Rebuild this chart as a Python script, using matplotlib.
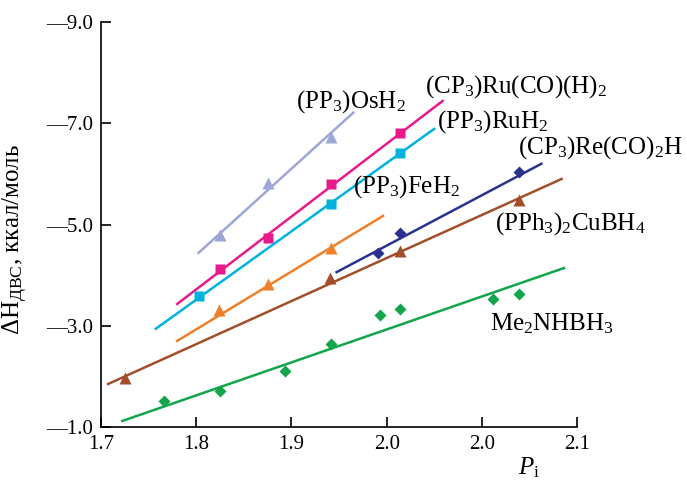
import numpy as np
from matplotlib import pyplot as plt

plt.rcParams['font.family'] = ['Liberation Serif', 'DejaVu Serif']
plt.rcParams['mathtext.fontset'] = 'custom'
plt.rcParams['mathtext.rm'] = 'Liberation Serif'
plt.rcParams['mathtext.it'] = 'Liberation Serif:italic'

# points (x = P_i, y = dH, kcal/mol)
os_x = [1.800, 1.840, 1.893]
os_y = [-4.79, -5.82, -6.73]
os_fit_x = [1.782, 1.912]
os_fit_y = [-4.44, -7.21]

ru_co_x = [1.800, 1.840, 1.893, 1.951]
ru_co_y = [-4.12, -4.74, -5.80, -6.81]
ru_co_fit_x = [1.764, 1.987]
ru_co_fit_y = [-3.43, -7.44]

ru_x = [1.782, 1.893, 1.951]
ru_y = [-3.59, -5.41, -6.41]
ru_fit_x = [1.746, 1.980]
ru_fit_y = [-2.94, -6.89]

fe_x = [1.799, 1.840, 1.893]
fe_y = [-3.31, -3.83, -4.54]
fe_fit_x = [1.764, 1.937]
fe_fit_y = [-2.70, -5.17]

re_x = [1.933, 1.951, 2.051]
re_y = [-4.44, -4.83, -6.04]
re_fit_x = [1.898, 2.070]
re_fit_y = [-4.06, -6.20]

cu_x = [1.720, 1.892, 1.951, 2.051]
cu_y = [-1.97, -3.94, -4.48, -5.49]
cu_fit_x = [1.706, 2.087]
cu_fit_y = [-1.85, -5.90]

nb_x = [1.753, 1.800, 1.855, 1.893, 1.934, 1.951, 2.029, 2.051]
nb_y = [-1.51, -1.71, -2.11, -2.64, -3.21, -3.33, -3.53, -3.63]
nb_fit_x = [1.718, 2.089]
nb_fit_y = [-1.12, -4.14]

x_ticks = [1.70, 1.78, 1.86, 1.94, 2.02, 2.10]
x_tick_labels = ['1.7', '1.8', '1.9', '2.0', '2.0', '2.1']
y_ticks = [-9.0, -7.0, -5.0, -3.0, -1.0]

fig = plt.figure(figsize=(6.87, 4.86), dpi=100)
ax = fig.add_axes([0.147, 0.1214, 0.693, 0.8333])

series = [
    (os_x, os_y, os_fit_x, os_fit_y, '#9da6d6', '^', 8),
    (ru_co_x, ru_co_y, ru_co_fit_x, ru_co_fit_y, '#e8198b', 's', 7),
    (ru_x, ru_y, ru_fit_x, ru_fit_y, '#00b2dd', 's', 7),
    (fe_x, fe_y, fe_fit_x, fe_fit_y, '#f07f2a', '^', 8),
    (re_x, re_y, re_fit_x, re_fit_y, '#2b3191', 'D', 6),
    (cu_x, cu_y, cu_fit_x, cu_fit_y, '#a34e2a', '^', 8),
    (nb_x, nb_y, nb_fit_x, nb_fit_y, '#12a54a', 'D', 6),
]
for px, py, fx, fy, col, mk, ms in series:
    ax.plot(fx, fy, '-', color=col, lw=1.8)
    ax.plot(px, py, mk, color=col, ms=ms, mec='none')

fs = 15
lfs = 18
ax.text(1.864, -7.42, r'$\mathrm{(PP_3)OsH_2}$', fontsize=lfs, va='center')
ax.text(1.972, -7.72, r'$\mathrm{(CP_3)Ru(CO)(H)_2}$', fontsize=lfs, va='center')
ax.text(1.982, -7.03, r'$\mathrm{(PP_3)RuH_2}$', fontsize=lfs, va='center')
ax.text(2.050, -6.51, r'$\mathrm{(CP_3)Re(CO)_2H}$', fontsize=lfs, va='center')
ax.text(1.912, -5.74, r'$\mathrm{(PP_3)FeH_2}$', fontsize=lfs, va='center')
ax.text(2.031, -5.01, r'$\mathrm{(PPh_3)_2CuBH_4}$', fontsize=lfs, va='center')
ax.text(2.027, -3.04, r'$\mathrm{Me_2NHBH_3}$', fontsize=lfs, va='center')

ax.set_xlim(1.7, 2.1)
ax.set_ylim(-1.0, -9.0)
ax.set_xticks(x_ticks)
ax.set_xticklabels(x_tick_labels)
ax.set_yticks(y_ticks)
ax.set_yticklabels(['\u2014%.1f' % abs(v) for v in y_ticks])
ax.tick_params(direction='in', length=7, width=1.2, labelsize=fs, pad=6)
ax.spines['top'].set_visible(False)
ax.spines['right'].set_visible(False)
for s in ['left', 'bottom']:
    ax.spines[s].set_linewidth(1.2)

ax.set_xlabel(r'$P_\mathrm{i}$', fontsize=lfs)
ax.xaxis.set_label_coords(0.9, -0.07)
ax.set_ylabel('\u0394H$_\\mathrm{ДВС}$, ккал/моль', fontsize=18)
ax.yaxis.set_label_coords(-0.15, 0.464)

fig.savefig('out.png', dpi=100)
